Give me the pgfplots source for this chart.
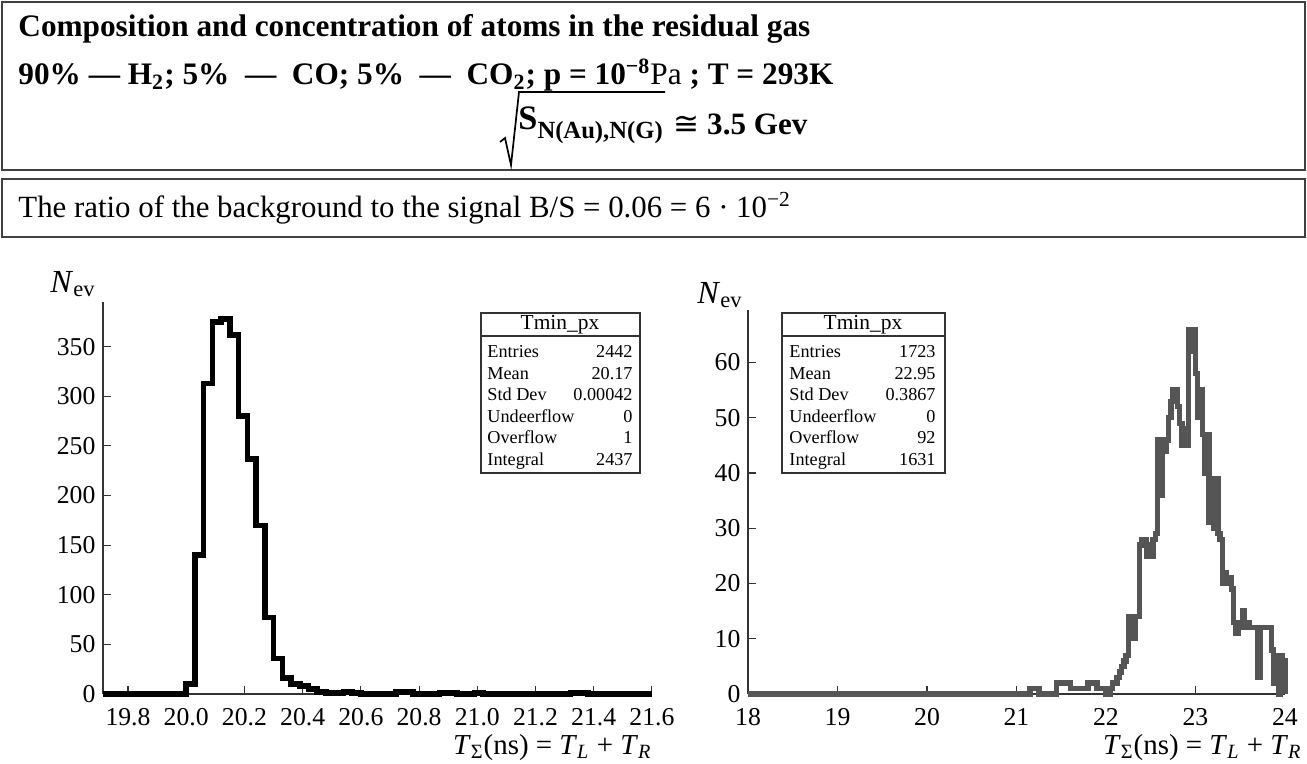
\documentclass[border=0pt]{standalone}
\usepackage{pgfplots}
\pgfplotsset{compat=1.18}
\usepackage{pgfplotstable}
\usepackage{fontspec}
\setmainfont{Liberation Serif}
\newfontfamily\symfont{DejaVu Sans}
\definecolor{hgray}{HTML}{555555}
\newcommand\PP[2]{({#1*0.46672pt},{(763-#2)*0.46672pt})}
\newcommand\xlab{\textit{T}\textsubscript{Σ}(ns) = \textit{T}\textsubscript{\textit{L}} + \textit{T}\textsubscript{\textit{R}}}

\pgfplotstableread{
x y
19.714 0
20.00 10
20.03 140
20.06 313
20.09 375
20.12 378
20.15 362
20.18 280
20.21 237
20.24 170
20.27 77
20.30 36
20.33 16
20.36 10
20.39 8
20.42 5
20.45 2
20.48 1
20.54 2
20.57 1
20.60 0
20.72 2
20.78 0
20.87 1
20.93 0
20.99 1
21.02 0
21.32 1
21.38 0
21.60 0
}\lefthist

\pgfplotstableread{
x y
18.000 0
21.150 1
21.250 0
21.450 2
21.600 1
21.800 2
21.900 1
22.000 0
22.050 1
22.075 2
22.125 3
22.150 4
22.175 5
22.200 6
22.225 7
22.250 14
22.275 14
22.300 10
22.325 14
22.350 14
22.375 27
22.400 28
22.425 28
22.450 25
22.475 27
22.500 25
22.525 28
22.550 29
22.575 46
22.600 36
22.625 46
22.650 44
22.675 46
22.700 50
22.725 53
22.750 55
22.775 55
22.800 52
22.825 49
22.850 45
22.875 48
22.900 45
22.925 66
22.950 62
22.975 66
23.000 58
23.025 50
23.050 55
23.075 47
23.100 40
23.125 47
23.150 31
23.175 39
23.200 30
23.225 39
23.250 29
23.275 28
23.300 20
23.325 22
23.350 20
23.375 21
23.400 19
23.425 13
23.450 11
23.475 13
23.500 12
23.525 15
23.550 12
23.575 13
23.600 12
23.625 12
23.650 12
23.675 12
23.700 3
23.725 12
23.750 12
23.775 12
23.800 12
23.825 12
23.850 8
23.875 2
23.900 7
23.925 0
23.950 7
23.975 6
24.000 0
}\righthist

\pgfplotsset{hist/.style={
  scale only axis, axis lines*=left,
  axis line style={-, line width=0.6pt, black!80},
  tick align=inside, major tick length=3.7pt,
  tick style={black!80, line width=0.5pt},
  tick label style={font=\fontsize{12}{14}\selectfont},
  x tick label style={yshift=-3.2pt},
  /pgf/number format/assume math mode=true,
  clip=false, ymin=0}}

\begin{document}
\begin{tikzpicture}
\useasboundingbox \PP{0}{763} rectangle \PP{1307}{0};

% header boxes
\draw[line width=0.8pt, black!75] \PP{2}{2} rectangle \PP{1305}{170};
\draw[line width=0.8pt, black!75] \PP{2}{179} rectangle \PP{1305}{237};
\path \PP{18}{37} node[anchor=base west, inner sep=0, font=\bfseries\fontsize{14.6}{17}\selectfont]
  {Composition and concentration of atoms in the residual gas};
\path \PP{18}{85} node[anchor=base west, inner sep=0, font=\fontsize{14.6}{17}\selectfont]
  {\textbf{90\% — H\textsubscript{2}; 5\% \ — \ CO; 5\% \ — \ CO\textsubscript{2}; p = 10\textsuperscript{−8}}Pa\textbf{ ; T = 293K}};
% radical sign
\draw[line width=0.8pt, line join=miter] \PP{500}{142} -- \PP{505}{138} -- \PP{511}{165} -- \PP{519}{92} -- \PP{665}{92};
\path \PP{518}{130} node[anchor=base west, inner sep=0, font=\bfseries\fontsize{16}{18}\selectfont]
  {S\raisebox{-4pt}{\fontsize{11.5}{13}\selectfont N(Au),N(G)}};
\path \PP{673}{135} node[anchor=base west, inner sep=0, font=\bfseries\fontsize{14.5}{17}\selectfont] {{\symfont\mdseries ≅} 3.5 Gev};
\path \PP{18}{218} node[anchor=base west, inner sep=0, font=\fontsize{14.4}{17}\selectfont]
  {The ratio of the background to the signal B/S = 0.06 = 6 · 10\textsuperscript{−2}};

% left histogram
\begin{axis}[hist, at={(48.07pt,32.20pt)}, anchor=south west,
  width=256.2pt, height=182.95pt,
  xmin=19.714, xmax=21.6, ymax=395,
  xtick={19.8,20,20.2,20.4,20.6,20.8,21,21.2,21.4,21.6},
  x tick label style={/pgf/number format/fixed, /pgf/number format/fixed zerofill, /pgf/number format/precision=1},
  ytick={0,50,100,150,200,250,300,350}]
\addplot[const plot mark left, black, line width=2.6pt] table {\lefthist};
\end{axis}

% right histogram
\begin{axis}[hist, at={(349.11pt,32.20pt)}, anchor=south west,
  width=250.6pt, height=179.2pt,
  xmin=18, xmax=24, ymax=69.5,
  xtick={18,19,20,21,22,23,24},
  ytick={0,10,20,30,40,50,60}]
\addplot[const plot mark left, hgray, line width=2.5pt] table {\righthist};
\end{axis}

% axis labels
\path \PP{50}{292} node[anchor=base west, inner sep=0, font=\fontsize{15}{17}\selectfont] {\textit{N}\textsubscript{ev}};
\path \PP{697}{303} node[anchor=base west, inner sep=0, font=\fontsize{15}{17}\selectfont] {\textit{N}\textsubscript{ev}};
\path \PP{652}{754} node[anchor=base east, inner sep=0, font=\fontsize{13.5}{16}\selectfont] {\xlab};
\path \PP{1302}{754} node[anchor=base east, inner sep=0, font=\fontsize{13.5}{16}\selectfont] {\xlab};

% stats box left
\draw[line width=0.7pt, black!80] \PP{481}{313} rectangle \PP{640}{473};
\draw[line width=0.7pt, black!80] \PP{481}{336} -- \PP{640}{336};
\path \PP{560}{325} node[font=\fontsize{10}{12}\selectfont, inner sep=0] {Tmin\_px};
\begin{scope}[every node/.style={inner sep=0, font=\fontsize{8.5}{10}\selectfont}]
\path \PP{487}{357} node[anchor=base west] {Entries};    \path \PP{633}{357} node[anchor=base east] {2442};
\path \PP{487}{379} node[anchor=base west] {Mean};       \path \PP{633}{379} node[anchor=base east] {20.17};
\path \PP{487}{400} node[anchor=base west] {Std Dev};    \path \PP{633}{400} node[anchor=base east] {0.00042};
\path \PP{487}{422} node[anchor=base west] {Undeerflow}; \path \PP{633}{422} node[anchor=base east] {0};
\path \PP{487}{443} node[anchor=base west] {Overflow};   \path \PP{633}{443} node[anchor=base east] {1};
\path \PP{487}{465} node[anchor=base west] {Integral};   \path \PP{633}{465} node[anchor=base east] {2437};
\end{scope}

% stats box right
\draw[line width=0.7pt, black!80] \PP{782}{313} rectangle \PP{945}{473};
\draw[line width=0.7pt, black!80] \PP{782}{336} -- \PP{945}{336};
\path \PP{863}{325} node[font=\fontsize{10}{12}\selectfont, inner sep=0] {Tmin\_px};
\begin{scope}[every node/.style={inner sep=0, font=\fontsize{8.5}{10}\selectfont}]
\path \PP{789}{357} node[anchor=base west] {Entries};    \path \PP{936}{357} node[anchor=base east] {1723};
\path \PP{789}{379} node[anchor=base west] {Mean};       \path \PP{936}{379} node[anchor=base east] {22.95};
\path \PP{789}{400} node[anchor=base west] {Std Dev};    \path \PP{936}{400} node[anchor=base east] {0.3867};
\path \PP{789}{422} node[anchor=base west] {Undeerflow}; \path \PP{936}{422} node[anchor=base east] {0};
\path \PP{789}{443} node[anchor=base west] {Overflow};   \path \PP{936}{443} node[anchor=base east] {92};
\path \PP{789}{465} node[anchor=base west] {Integral};   \path \PP{936}{465} node[anchor=base east] {1631};
\end{scope}
\end{tikzpicture}
\end{document}
